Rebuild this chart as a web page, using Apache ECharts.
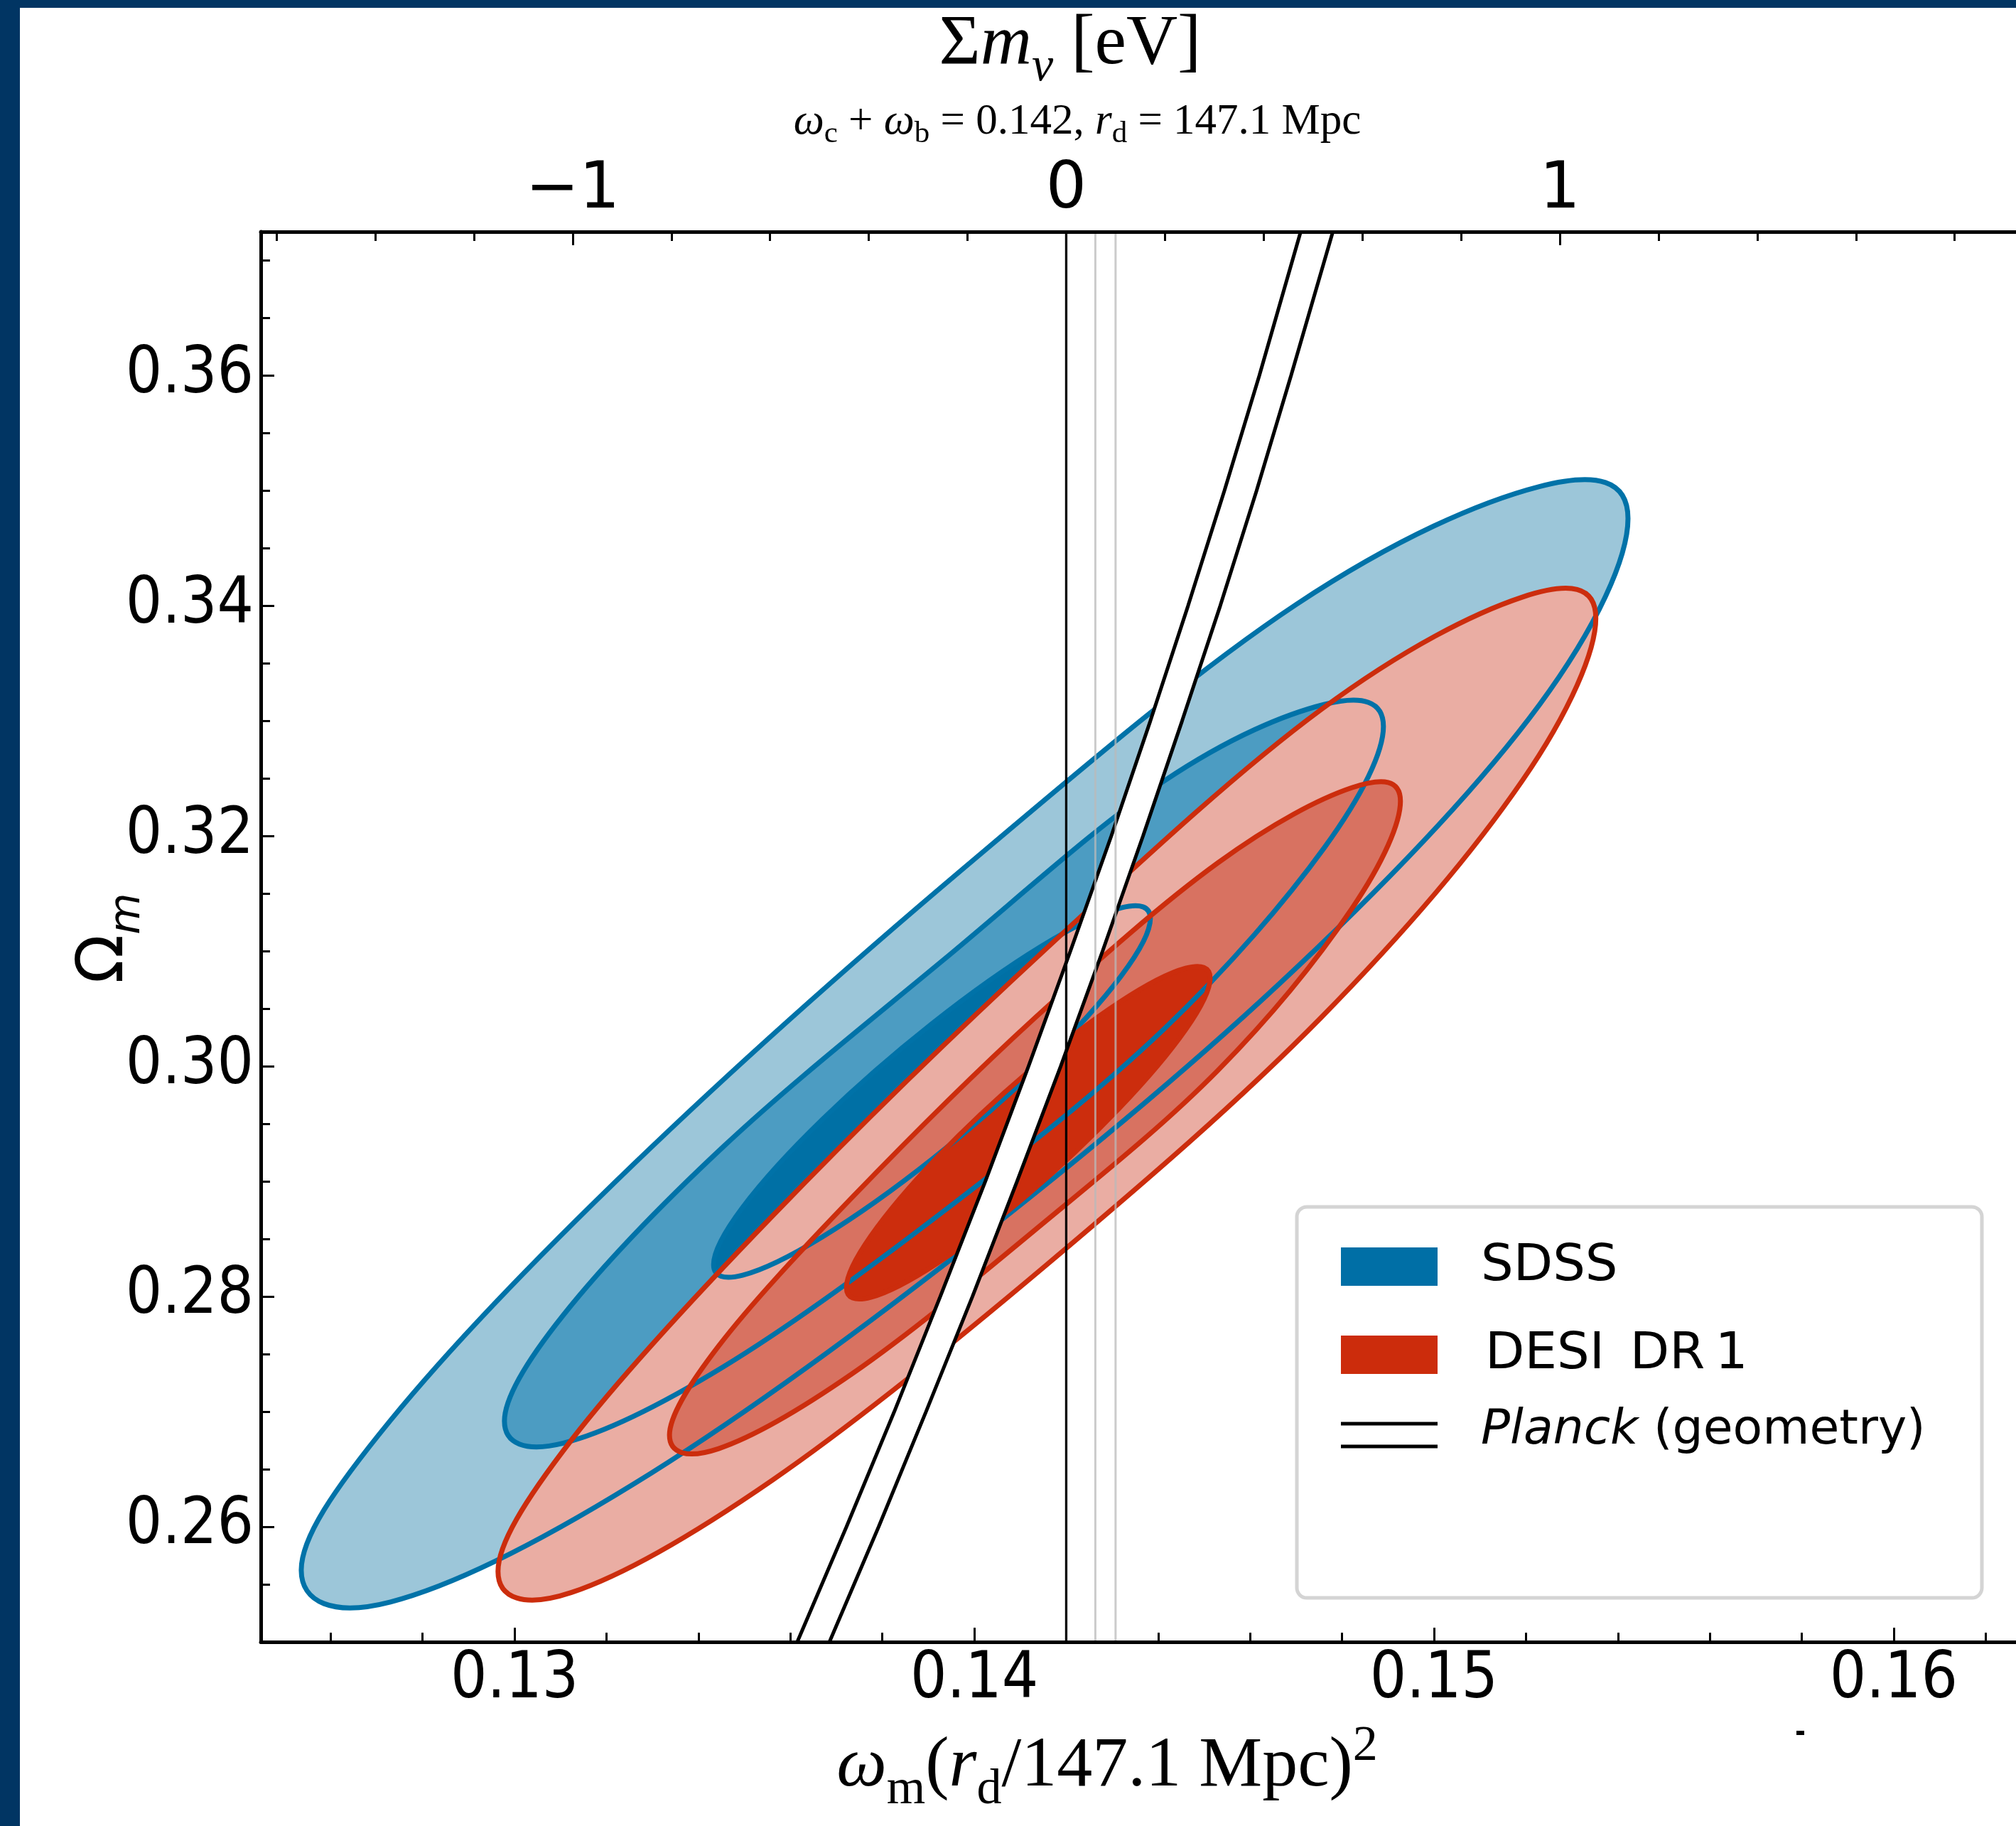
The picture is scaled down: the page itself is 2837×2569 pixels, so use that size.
<!DOCTYPE html>
<html>
<head>
<meta charset="utf-8">
<script src="https://cdn.jsdelivr.net/npm/echarts@6/dist/echarts.min.js"></script>
<style>
html,body{margin:0;padding:0;background:#ffffff;}
#chart{width:2837px;height:2569px;}
</style>
</head>
<body>
<div id="chart"></div>
<script>
// ---------------- data ----------------
const xMin = 0.12448, xMax = 0.16266;          // omega_m (r_d/147.1 Mpc)^2
const yMin = 0.25, yMax = 0.3725;              // Omega_m
const omegaRef = 0.142;                        // omega_c + omega_b at sum m_nu = 0
const eVperOmega = 93.14;                      // sum m_nu [eV] per unit omega_nu

const xMajorTicks = [0.13, 0.14, 0.15, 0.16];
const xMinorTicks = [0.126, 0.128, 0.132, 0.134, 0.136, 0.138, 0.142, 0.144, 0.146, 0.148, 0.152, 0.154, 0.156, 0.158, 0.162];
const yMajorTicks = [0.26, 0.28, 0.30, 0.32, 0.34, 0.36];
const yMinorTicks = [0.255, 0.265, 0.27, 0.275, 0.285, 0.29, 0.295, 0.305, 0.31, 0.315, 0.325, 0.33, 0.335, 0.345, 0.35, 0.355, 0.365, 0.37];
const massMajorTicks = [-1, 0, 1];
const massMinorTicks = [-1.6, -1.4, -1.2, -0.8, -0.6, -0.4, -0.2, 0.2, 0.4, 0.6, 0.8, 1.2, 1.4, 1.6, 1.8];

// SDSS contours (omega_m, Omega_m) boundary points
const sdssOuter = [[0.15422,0.34759],[0.15229,0.35036],[0.14701,0.34014],[0.13979,0.31728],[0.13258,0.29146],[0.12730,0.26924],[0.12536,0.25624],[0.12730,0.25347],[0.13258,0.26369],[0.13979,0.28415],[0.14701,0.30857],[0.15229,0.33139]];
const sdssMiddle = [[0.14890,0.32952],[0.14762,0.33144],[0.14412,0.32476],[0.13934,0.30928],[0.13456,0.29309],[0.13106,0.27839],[0.12978,0.26919],[0.13106,0.26727],[0.13456,0.27394],[0.13934,0.28743],[0.14412,0.30321],[0.14762,0.31902]];
const sdssInner = [[0.14383,0.31284],[0.14320,0.31377],[0.14146,0.31043],[0.13908,0.30370],[0.13670,0.29540],[0.13496,0.28774],[0.13433,0.28278],[0.13496,0.28185],[0.13670,0.28519],[0.13908,0.29192],[0.14146,0.30022],[0.14320,0.30788]];
// DESI DR1 contours
const desiOuter = [[0.15352,0.33893],[0.15192,0.34076],[0.14755,0.33101],[0.14158,0.31028],[0.13561,0.28700],[0.13124,0.26755],[0.12964,0.25613],[0.13124,0.25430],[0.13561,0.26406],[0.14158,0.28278],[0.14755,0.30426],[0.15192,0.32481]];
const desiMiddle = [[0.14927,0.32303],[0.14821,0.32420],[0.14530,0.31768],[0.14132,0.30421],[0.13735,0.28864],[0.13444,0.27571],[0.13337,0.26796],[0.13444,0.26679],[0.13735,0.27331],[0.14132,0.28578],[0.14530,0.29965],[0.14821,0.31368]];
const desiInner = [[0.14513,0.30766],[0.14460,0.30852],[0.14315,0.30554],[0.14118,0.29954],[0.13920,0.29211],[0.13775,0.28525],[0.13722,0.28080],[0.13775,0.27994],[0.13920,0.28291],[0.14118,0.28892],[0.14315,0.29635],[0.14460,0.30321]];

// Planck (geometry) band edges
const planckOmegaM = [0.25, 0.26, 0.27, 0.28, 0.29, 0.30, 0.31, 0.32, 0.33, 0.34, 0.35, 0.36, 0.3725];
const planckLow  = [0.13615, 0.13722, 0.13826, 0.13926, 0.14024, 0.14118, 0.14209, 0.14298, 0.14383, 0.14465, 0.14544, 0.14620, 0.14710];
const planckHigh = [0.13685, 0.13792, 0.13895, 0.13996, 0.14093, 0.14188, 0.14279, 0.14367, 0.14452, 0.14535, 0.14614, 0.14689, 0.14780];

// vertical neutrino-mass reference lines [eV]
const massZeroLine = [0];
const massHierarchyLines = [0.059, 0.1];

// ---------------- styling ----------------
const SERIF = "'Liberation Serif', 'DejaVu Serif', serif";
const SANS = "'DejaVu Sans', 'Liberation Sans', sans-serif";
const SANS_COND = "'DejaVu Sans Condensed', 'DejaVu Sans', sans-serif";
const C = {
  sOuter: '#9CC6D9', sMiddle: '#4C9CC2', sInner: '#0070A5', sLine: '#0072A8',
  dOuter: '#EAADA3', dMiddle: '#D87261', dInner: '#CC2D0D', dLine: '#CC2D0D'
};
const OUTLINE = 7;

const massMin = (xMin - omegaRef) * eVperOmega;
const massMax = (xMax - omegaRef) * eVperOmega;

function closedSpline(P, k) {
  const n = P.length;
  let d = 'M' + P[0][0] + ',' + P[0][1];
  for (let i = 0; i < n; i++) {
    const p0 = P[(i - 1 + n) % n], p1 = P[i], p2 = P[(i + 1) % n], p3 = P[(i + 2) % n];
    const c1x = p1[0] + k * (p2[0] - p0[0]), c1y = p1[1] + k * (p2[1] - p0[1]);
    const c2x = p2[0] - k * (p3[0] - p1[0]), c2y = p2[1] - k * (p3[1] - p1[1]);
    d += 'C' + c1x + ',' + c1y + ' ' + c2x + ',' + c2y + ' ' + p2[0] + ',' + p2[1];
  }
  return d + 'Z';
}

function contourSeries(name, pts, fill, stroke, lw) {
  return {
    type: 'custom', name: name, coordinateSystem: 'cartesian2d',
    xAxisIndex: 0, yAxisIndex: 0, silent: true, data: pts,
    renderItem: function (params, api) {
      if (params.dataIndex !== 0) return null;
      const px = pts.map(function (p) { return api.coord(p); });
      return {
        type: 'path',
        shape: { pathData: closedSpline(px, 0.1755) },
        style: { fill: fill || 'none', stroke: stroke || 'none', lineWidth: lw || 0 }
      };
    }
  };
}

const planckLowPts = planckOmegaM.map(function (y, i) { return [planckLow[i], y]; });
const planckHighPts = planckOmegaM.map(function (y, i) { return [planckHigh[i], y]; });

const series = [
  contourSeries('SDSS outer', sdssOuter, C.sOuter),
  contourSeries('SDSS middle', sdssMiddle, C.sMiddle),
  contourSeries('SDSS inner', sdssInner, C.sInner),
  contourSeries('DESI outer', desiOuter, C.dOuter),
  contourSeries('DESI middle', desiMiddle, C.dMiddle),
  contourSeries('DESI inner', desiInner, C.dInner),
  contourSeries('SDSS outer line', sdssOuter, null, C.sLine, OUTLINE),
  contourSeries('SDSS middle line', sdssMiddle, null, C.sLine, OUTLINE),
  contourSeries('SDSS inner line', sdssInner, null, C.sLine, OUTLINE),
  contourSeries('DESI outer line', desiOuter, null, C.dLine, OUTLINE),
  contourSeries('DESI middle line', desiMiddle, null, C.dLine, OUTLINE),
  contourSeries('DESI inner line', desiInner, null, C.dLine, OUTLINE),
  {
    type: 'custom', name: 'Planck band', coordinateSystem: 'cartesian2d',
    xAxisIndex: 0, yAxisIndex: 0, silent: true, data: planckLowPts,
    renderItem: function (params, api) {
      if (params.dataIndex !== 0) return null;
      const pts = planckLowPts.concat(planckHighPts.slice().reverse()).map(function (p) { return api.coord(p); });
      return { type: 'polygon', shape: { points: pts }, style: { fill: '#ffffff', stroke: 'none' } };
    }
  },
  {
    type: 'line', name: 'Planck low', xAxisIndex: 0, yAxisIndex: 0, data: planckLowPts,
    symbol: 'none', silent: true, lineStyle: { color: '#000', width: 5 }
  },
  {
    type: 'line', name: 'Planck high', xAxisIndex: 0, yAxisIndex: 0, data: planckHighPts,
    symbol: 'none', silent: true, lineStyle: { color: '#000', width: 5 }
  }
];
massHierarchyLines.forEach(function (m) {
  series.push({
    type: 'line', xAxisIndex: 2, yAxisIndex: 0, data: [[m, yMin], [m, yMax]],
    symbol: 'none', silent: true, lineStyle: { color: 'rgba(185,185,185,0.75)', width: 3 }
  });
});
massZeroLine.forEach(function (m) {
  series.push({
    type: 'line', xAxisIndex: 2, yAxisIndex: 0, data: [[m, yMin], [m, yMax]],
    symbol: 'none', silent: true, lineStyle: { color: '#000', width: 3.3 }
  });
});

const tickLine = { color: '#000', width: 3 };
const option = {
  animation: false,
  backgroundColor: '#ffffff',
  grid: { left: 367, top: 326, right: 0, bottom: 259, outerBoundsMode: 'none' },
  xAxis: [
    {
      type: 'value', position: 'bottom', min: xMin, max: xMax, z: 10,
      axisLine: { onZero: false, lineStyle: { color: '#000', width: 5 } },
      splitLine: { show: false },
      axisTick: { inside: true, length: 20, customValues: xMajorTicks, lineStyle: tickLine },
      axisLabel: { customValues: xMajorTicks, formatter: function (v) { return v.toFixed(2); },
        fontSize: 90, fontFamily: SANS_COND, color: '#000', margin: 10 }
    },
    {
      type: 'value', position: 'bottom', min: xMin, max: xMax, z: 10,
      axisLine: { show: false, onZero: false }, splitLine: { show: false },
      axisTick: { inside: true, length: 13, customValues: xMinorTicks, lineStyle: tickLine },
      axisLabel: { show: false }
    },
    {
      type: 'value', position: 'top', min: massMin, max: massMax, z: 10,
      axisLine: { onZero: false, lineStyle: { color: '#000', width: 5 } },
      splitLine: { show: false },
      axisTick: { inside: true, length: 19, customValues: massMajorTicks, lineStyle: tickLine },
      axisLabel: { customValues: massMajorTicks,
        formatter: function (v) { return v < 0 ? '\u2212' + Math.abs(v) : String(v); },
        fontSize: 90, fontFamily: SANS, color: '#000', margin: 12 }
    },
    {
      type: 'value', position: 'top', min: massMin, max: massMax, z: 10,
      axisLine: { show: false, onZero: false }, splitLine: { show: false },
      axisTick: { inside: true, length: 13, customValues: massMinorTicks, lineStyle: tickLine },
      axisLabel: { show: false }
    }
  ],
  yAxis: [
    {
      type: 'value', position: 'left', min: yMin, max: yMax, z: 10,
      axisLine: { onZero: false, lineStyle: { color: '#000', width: 5 } },
      splitLine: { show: false },
      axisTick: { inside: true, length: 19, customValues: yMajorTicks, lineStyle: tickLine },
      axisLabel: { customValues: yMajorTicks, formatter: function (v) { return v.toFixed(2); },
        fontSize: 90, fontFamily: SANS_COND, color: '#000', margin: 10 }
    },
    {
      type: 'value', position: 'left', min: yMin, max: yMax, z: 10,
      axisLine: { show: false, onZero: false }, splitLine: { show: false },
      axisTick: { inside: true, length: 13, customValues: yMinorTicks, lineStyle: tickLine },
      axisLabel: { show: false }
    }
  ],
  graphic: [
    { type: 'rect', z: 200, shape: { x: 0, y: 0, width: 2837, height: 11 }, style: { fill: '#013563' } },
    { type: 'rect', z: 200, shape: { x: 0, y: 0, width: 28, height: 2569 }, style: { fill: '#013563' } },
    // top title
    { type: 'text', z: 50, x: 1506, y: 63, style: {
        text: '{s|\u03A3}{i|m}{sub|\u03BD}{s| [eV]}', align: 'center', verticalAlign: 'middle',
        rich: {
          s: { fontFamily: SERIF, fontSize: 100, fill: '#000' },
          i: { fontFamily: SERIF, fontStyle: 'italic', fontSize: 100, fill: '#000' },
          sub: { fontFamily: SERIF, fontStyle: 'italic', fontSize: 68, fill: '#000', padding: [64, 0, 0, 0] }
        } } },
    { type: 'text', z: 50, x: 1516, y: 172, style: {
        text: '{i|\u03C9}{sub|c}{n| + }{i|\u03C9}{sub|b}{n| = 0.142, }{i|r}{sub|d}{n| = 147.1 Mpc}',
        align: 'center', verticalAlign: 'middle',
        rich: {
          n: { fontFamily: SERIF, fontSize: 61, fill: '#000' },
          i: { fontFamily: SERIF, fontStyle: 'italic', fontSize: 61, fill: '#000' },
          sub: { fontFamily: SERIF, fontSize: 43, fill: '#000', padding: [34, 0, 0, 0] }
        } } },
    // x axis title
    { type: 'text', z: 50, x: 1558, y: 2486, style: {
        text: '{i|\u03C9}{sub|m}{n|(}{i|r}{sub|d}{n|/147.1 Mpc)}{sup|2}',
        align: 'center', verticalAlign: 'middle',
        rich: {
          n: { fontFamily: SERIF, fontSize: 100, fill: '#000' },
          i: { fontFamily: SERIF, fontStyle: 'italic', fontSize: 100, fill: '#000' },
          sub: { fontFamily: SERIF, fontSize: 70, fill: '#000', padding: [66, 0, 0, 0] },
          sup: { fontFamily: SERIF, fontSize: 70, fill: '#000', padding: [0, 0, 56, 0] }
        } } },
    // y axis title
    { type: 'text', z: 50, x: 149, y: 1320, rotation: Math.PI / 2, style: {
        text: '{o|\u03A9}{sub|m}', align: 'center', verticalAlign: 'middle',
        rich: {
          o: { fontFamily: SANS, fontSize: 90, fill: '#000' },
          sub: { fontFamily: SANS, fontStyle: 'italic', fontSize: 60, fill: '#000', padding: [62, 0, 0, 0] }
        } } },
    // legend
    { type: 'rect', z: 60, shape: { x: 1825, y: 1698, width: 964, height: 550, r: 14 },
      style: { fill: '#ffffff', stroke: '#d4d4d4', lineWidth: 5 } },
    { type: 'rect', z: 61, shape: { x: 1887, y: 1755, width: 136, height: 54 }, style: { fill: '#006FA6' } },
    { type: 'rect', z: 61, shape: { x: 1887, y: 1879, width: 136, height: 54 }, style: { fill: '#CC2C0C' } },
    { type: 'line', z: 61, shape: { x1: 1887, y1: 2003, x2: 2023, y2: 2003 }, style: { stroke: '#000', lineWidth: 5 } },
    { type: 'line', z: 61, shape: { x1: 1887, y1: 2035, x2: 2023, y2: 2035 }, style: { stroke: '#000', lineWidth: 5 } },
    { type: 'text', z: 61, x: 2084, y: 1782, style: { text: 'SDSS', fontFamily: SANS, fontSize: 72, fill: '#000', verticalAlign: 'middle' } },
    { type: 'text', z: 61, x: 2090, y: 1906, style: { text: 'DESI\u2002DR\u20091', fontFamily: SANS, fontSize: 72, fill: '#000', verticalAlign: 'middle' } },
    { type: 'text', z: 61, x: 2084, y: 2013, style: {
        text: '{it|Planck}{n| (geometry)}', verticalAlign: 'middle',
        rich: {
          it: { fontFamily: SANS, fontStyle: 'italic', fontSize: 68, fill: '#000' },
          n: { fontFamily: SANS, fontSize: 68, fill: '#000' }
        } } },
    // small stray mark below the x axis
    { type: 'rect', z: 61, shape: { x: 2528, y: 2435, width: 11, height: 6 }, style: { fill: '#000' } }
  ],
  series: series
};

const chart = echarts.init(document.getElementById('chart'), null, { renderer: 'canvas' });
chart.setOption(option);
</script>
</body>
</html>
